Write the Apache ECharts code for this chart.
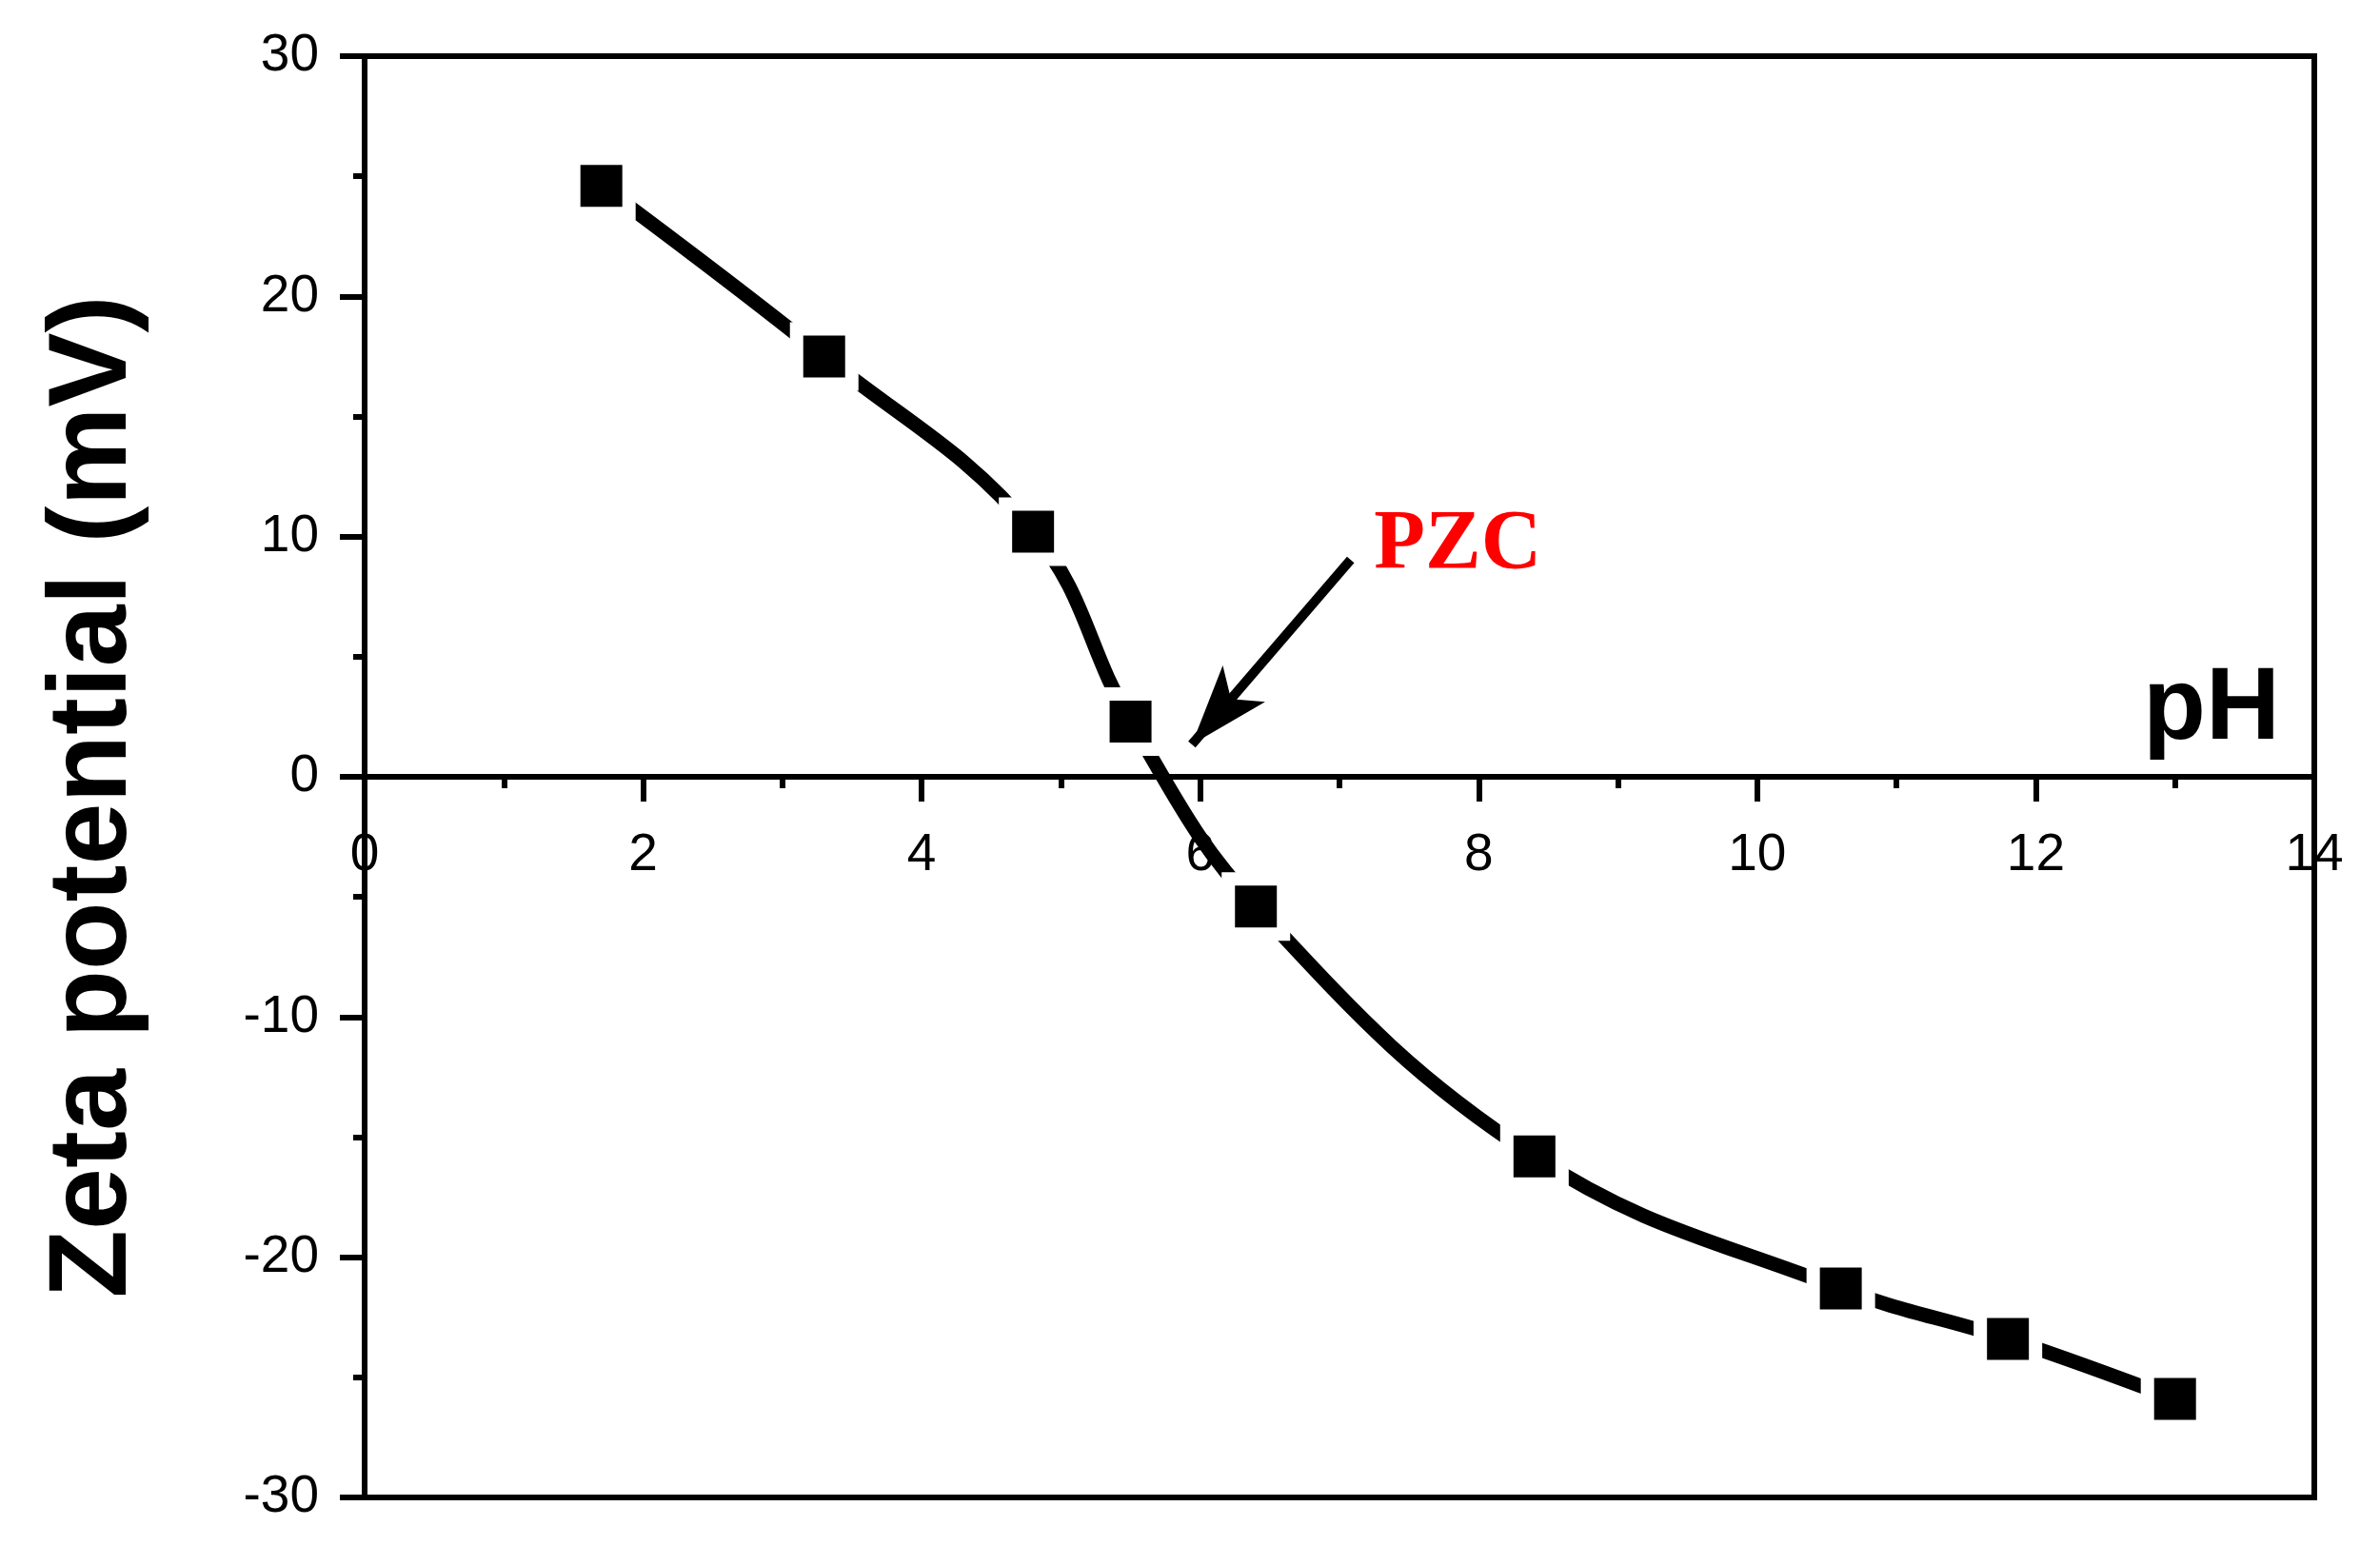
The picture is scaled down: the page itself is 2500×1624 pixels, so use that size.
<!DOCTYPE html>
<html>
<head>
<meta charset="utf-8">
<title>Zeta potential vs pH</title>
<script src="https://cdn.jsdelivr.net/npm/echarts@6/dist/echarts.min.js"></script>
<style>
  html, body { margin: 0; padding: 0; background: #fff; }
  #chart { width: 2500px; height: 1624px; }
</style>
</head>
<body>
<div id="chart"></div>
<script>
// measured points
const phValues = [1.7, 3.3, 4.8, 5.5, 6.4, 8.4, 10.6, 11.8, 13.0]
const zetaValues = [24.6, 17.5, 10.2, 2.3, -5.4, -15.8, -21.3, -23.4, -25.9]

// PZC annotation (data coords)
const arrowFrom = [7.08, 9.04]
const arrowTo = [5.94, 1.35]
const pzcLabelAt = [7.85, 9.63]

const chart = echarts.init(document.getElementById('chart'))

const gridTop = 59
const gridBottom = 51
const plotH = 1624 - gridTop - gridBottom

const tickFont = { fontFamily: 'Liberation Sans', fontSize: 55, color: '#000' }

chart.setOption({
  backgroundColor: '#fff',
  animation: false,
  grid: {
    left: 383,
    right: 69,
    top: gridTop,
    bottom: gridBottom,
    outerBoundsMode: 'none',
    show: true,
    borderColor: '#000',
    borderWidth: 6,
    backgroundColor: 'transparent'
  },
  xAxis: {
    type: 'value',
    min: 0,
    max: 14,
    interval: 2,
    // axis sits on y = 0 (middle of the -30..30 range)
    offset: -plotH / 2,
    name: 'pH',
    nameLocation: 'end',
    nameGap: -180,
    nameTextStyle: {
      fontFamily: 'Liberation Sans',
      fontSize: 108,
      fontWeight: 'bold',
      color: '#000',
      align: 'left',
      verticalAlign: 'bottom',
      padding: [0, 0, 16, 0]
    },
    axisLine: { onZero: false, lineStyle: { color: '#000', width: 6 } },
    axisTick: { show: true, length: 26, lineStyle: { color: '#000', width: 6 } },
    minorTick: { show: true, splitNumber: 2, length: 12, lineStyle: { color: '#000', width: 6 } },
    splitLine: { show: false },
    axisLabel: { ...tickFont, margin: 55 }
  },
  yAxis: {
    type: 'value',
    min: -30,
    max: 30,
    interval: 10,
    name: 'Zeta potential (mV)',
    nameLocation: 'middle',
    nameGap: 225,
    nameTextStyle: {
      fontFamily: 'Liberation Sans',
      fontSize: 117,
      fontWeight: 'bold',
      color: '#000',
      padding: [0, 42, 0, 0]
    },
    axisLine: { lineStyle: { color: '#000', width: 6 } },
    axisTick: { show: true, length: 26, lineStyle: { color: '#000', width: 6 } },
    minorTick: { show: true, splitNumber: 2, length: 12, lineStyle: { color: '#000', width: 6 } },
    splitLine: { show: false },
    axisLabel: { ...tickFont, margin: 48 }
  },
  series: [
    {
      type: 'line',
      data: phValues.map((x, i) => [x, zetaValues[i]]),
      smooth: 0.4,
      symbol: 'rect',
      symbolSize: 58,
      // white border makes the gap between line and marker
      itemStyle: { color: '#000', borderColor: '#fff', borderWidth: 14 },
      lineStyle: { color: '#000', width: 15 },
      markLine: {
        silent: true,
        symbol: ['none', 'arrow'],
        symbolSize: [44, 84],
        label: { show: false },
        lineStyle: { color: '#000', width: 10, type: 'solid' },
        data: [[{ coord: arrowFrom }, { coord: arrowTo }]]
      },
      markPoint: {
        silent: true,
        symbol: 'rect',
        symbolSize: 1,
        itemStyle: { color: 'rgba(0,0,0,0)' },
        label: {
          show: true,
          position: 'inside',
          formatter: 'PZC',
          color: '#ff0000',
          fontFamily: 'Liberation Serif',
          fontWeight: 'bold',
          fontSize: 88
        },
        data: [{ coord: pzcLabelAt }]
      }
    }
  ]
})
</script>
</body>
</html>
